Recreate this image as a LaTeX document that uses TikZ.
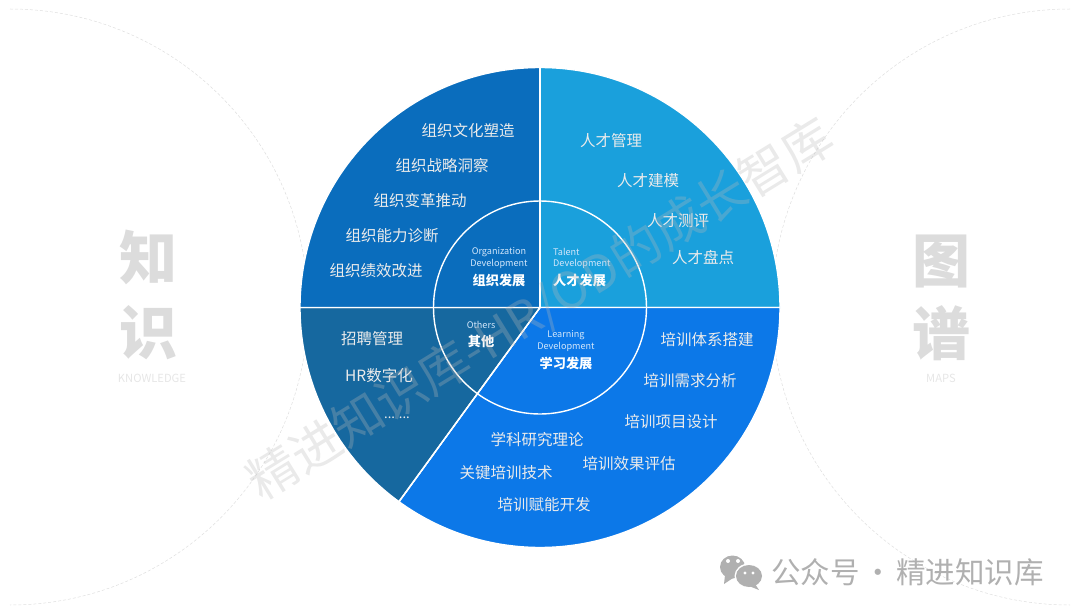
\documentclass[tikz,border=0pt]{standalone}
\usepackage{fontspec}
\setmainfont{Noto Sans CJK SC}
\definecolor{orgblue}{HTML}{0A6DBD}
\definecolor{talentblue}{HTML}{1AA0DC}
\definecolor{learnblue}{HTML}{0C78E8}
\definecolor{otherblue}{HTML}{16689F}
\definecolor{bigword}{HTML}{DCDCDC}
\definecolor{smallword}{HTML}{E6E6E6}
\definecolor{arcgrey}{HTML}{DEDEDE}
\definecolor{markgrey}{HTML}{B0B0B0}
\definecolor{wmarkgrey}{HTML}{B8B8B8}

\begin{document}
\begin{tikzpicture}[
  x=1pt, y=-1pt,
  item/.style={text=white!92!black, font=\fontsize{15.5}{16}\selectfont, inner sep=0pt},
  enname/.style={text=white!82!learnblue, font=\fontsize{9.1}{10}\selectfont, inner sep=0pt},
  cnname/.style={text=white, font=\fontsize{13.2}{14}\selectfont\bfseries, inner sep=0pt},
  sideword/.style={text=bigword, font=\fontsize{58}{60}\selectfont\bfseries, inner sep=0pt},
  sidelabel/.style={text=smallword, font=\fontsize{11.2}{12}\selectfont, inner sep=0pt},
  sector/.style={draw=white, line width=1.4pt, line join=round},
  bubble/.style={fill=markgrey},
]
\useasboundingbox (0,0) rectangle (1080,615);

\coordinate (c) at (540,307.5);

% side arcs
\draw[arcgrey, densely dashed, line width=.5pt] (10,9) arc[start angle=-90, end angle=90, radius=298];
\draw[arcgrey, densely dashed, line width=.5pt] (1070,9) arc[start angle=270, end angle=90, radius=298];

% side words
\node[sideword] (zhi) at (148,257) {知};
\node[sideword] (shi) at (148,333) {识};
\node[sidelabel] (knowledge) at (152,378) {KNOWLEDGE};
\node[sideword] (tu) at (941,262) {图};
\node[sideword] (pu) at (941,333) {谱};
\node[sidelabel] (maps) at (941,378) {MAPS};

% pie
\fill[sector, fill=talentblue] (c) -- ++(270:240) arc[start angle=270, end angle=360, radius=240] -- cycle;
\fill[sector, fill=learnblue] (c) -- ++(0:240) arc[start angle=0, end angle=126, radius=240] -- cycle;
\fill[sector, fill=otherblue] (c) -- ++(126:240) arc[start angle=126, end angle=180, radius=240] -- cycle;
\fill[sector, fill=orgblue] (c) -- ++(180:240) arc[start angle=180, end angle=270, radius=240] -- cycle;
\draw[white, line width=1.4pt] (c) circle[radius=106.5];
\draw[white, line width=1.4pt] (300,307.5) -- (780,307.5);
\draw[white, line width=1.4pt] (540,67.5) -- (c);
\draw[white, line width=1.4pt] (c) -- ++(126:240);

% organization
\node[item] (org1) at (468,131) {组织文化塑造};
\node[item] (org2) at (442,166) {组织战略洞察};
\node[item] (org3) at (420,201) {组织变革推动};
\node[item] (org4) at (392,236) {组织能力诊断};
\node[item] (org5) at (376,271) {组织绩效改进};
\node[enname] (orgen1) at (499,252) {Organization};
\node[enname] (orgen2) at (499,264) {Development};
\node[cnname] (orgcn) at (499,280) {组织发展};

% talent
\node[item] (tal1) at (611,141) {人才管理};
\node[item] (tal2) at (648,181) {人才建模};
\node[item] (tal3) at (678,221) {人才测评};
\node[item] (tal4) at (703,258) {人才盘点};
\node[enname, anchor=west] (talen1) at (553,252) {Talent};
\node[enname, anchor=west] (talen2) at (553,264) {Development};
\node[cnname, anchor=west] (talcn) at (553,280) {人才发展};

% others
\node[item] (oth1) at (372,339) {招聘管理};
\node[item] (oth2) at (379,376) {HR数字化};
\node[item, font=\fontsize{13}{14}\selectfont] (oth3) at (397,418) {... ...};
\node[enname] (othen) at (481,325) {Others};
\node[cnname] (othcn) at (481,341) {其他};

% learning
\node[enname] (lrnen1) at (566,335) {Learning};
\node[enname] (lrnen2) at (566,347) {Development};
\node[cnname] (lrncn) at (566,363) {学习发展};
\node[item] (lrn1) at (707,340) {培训体系搭建};
\node[item] (lrn2) at (690,381) {培训需求分析};
\node[item] (lrn3) at (671,422) {培训项目设计};
\node[item] (lrn4) at (537,440) {学科研究理论};
\node[item] (lrn5) at (629,464) {培训效果评估};
\node[item] (lrn6) at (506,473) {关键培训技术};
\node[item] (lrn7) at (544,505) {培训赋能开发};

% watermark
\node[text=wmarkgrey, opacity=.3, rotate=31.6, font=\fontsize{50}{51}\selectfont, inner sep=0pt] (wmark) at (541,310) {精进知识库-HR/OD的成长智库};

% account mark
\fill[bubble] (732.5,567) ellipse[x radius=12.5, y radius=11.5];
\fill[bubble] (725,575) -- (724,584) -- (733,578) -- cycle;
\fill[white] (749,576) ellipse[x radius=14.5, y radius=12.5];
\fill[bubble] (749,576) ellipse[x radius=13, y radius=11];
\fill[bubble] (755,584) -- (759,590) -- (749,586) -- cycle;
\fill[white] (728,561) circle[radius=2] (738,561) circle[radius=2] (745,573) circle[radius=1.6] (753,573) circle[radius=1.6];
\node[text=markgrey, font=\fontsize{29.5}{30}\selectfont, inner sep=0pt, anchor=west] (mark) at (771,572) {公众号\kern-3pt{} · \kern-3pt{}精进知识库};
\end{tikzpicture}
\end{document}
